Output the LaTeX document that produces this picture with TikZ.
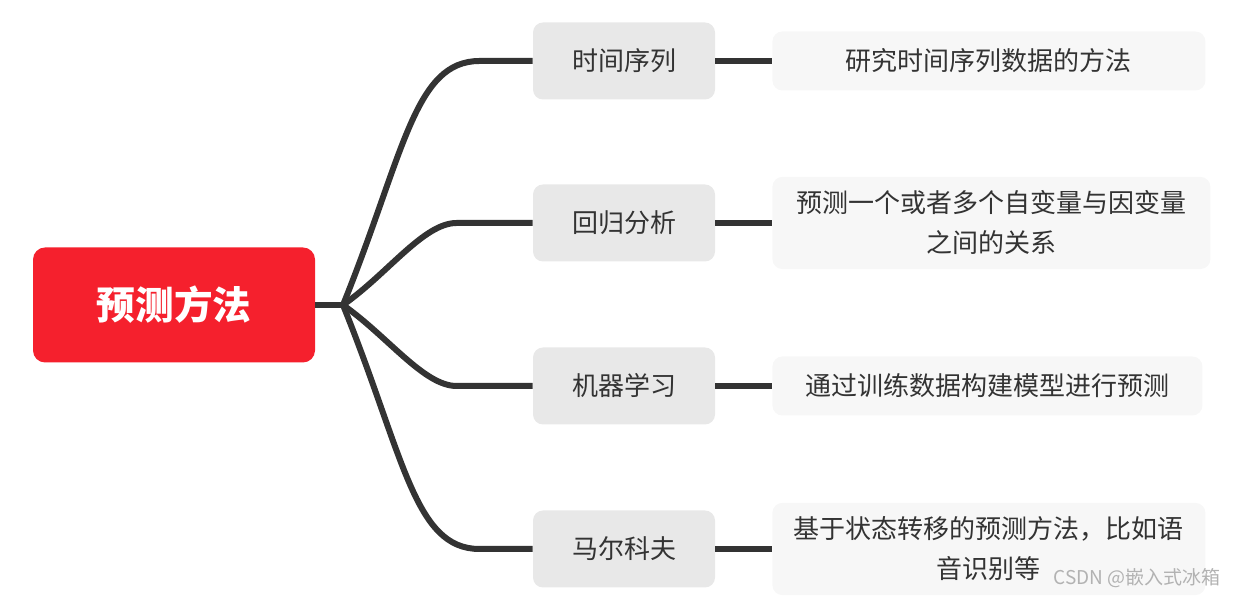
\documentclass[tikz,border=0pt]{standalone}
\usepackage{fontspec}
\newfontfamily\cjk{Noto Sans CJK SC}
\definecolor{rootred}{HTML}{F5202D}
\definecolor{topicgray}{HTML}{E8E8E8}
\definecolor{leafgray}{HTML}{F7F7F7}
\definecolor{inkgray}{HTML}{333333}

\tikzstyle{rootbox} = [rectangle,rounded corners=6pt,fill=rootred,text=white,minimum width=141pt,minimum height=57.5pt,font=\cjk\fontsize{19.3}{22}\selectfont\bfseries]
\tikzstyle{topicbox} = [rectangle,rounded corners=5pt,fill=topicgray,text=inkgray,minimum width=91pt,minimum height=38.5pt,font=\cjk\fontsize{13}{20}\selectfont]
\tikzstyle{leafbox} = [rectangle,rounded corners=5pt,fill=leafgray,text=inkgray,minimum height=29.5pt,inner ysep=7pt,align=center,anchor=west,font=\cjk\fontsize{13}{20}\selectfont]
\tikzstyle{link} = [draw,line width=3pt,inkgray,-]
\tikzstyle{signtext} = [font=\cjk\fontsize{9.5}{11}\selectfont,text=gray!60]

\begin{document}
\begin{tikzpicture}[x=0.5pt,y=0.5pt]
    \useasboundingbox (0,0) rectangle (1240,603);
    %% root and hub
    \node[rootbox] (root) at (174,298) {预测方法};
    \coordinate (hub) at (343,298);
    \draw[link] (root.east) -- (hub);
    %% topics, leaves and links
    \foreach \topicname/\topic/\leafname/\leaf/\leafw/\y/\angle/\loose/\shift in {
      ts/时间序列/tsd/研究时间序列数据的方法/216.5/542/68/1.5/26.5,
      reg/回归分析/regd/{预测一个或者多个自变量与因变量\\之间的关系}/219/380/35/1/38,
      ml/机器学习/mld/通过训练数据构建模型进行预测/215/217/-35/1/38,
      mk/马尔科夫/mkd/{基于状态转移的预测方法，比如语\\音识别等}/216.5/54/-68/1.5/26.5}
    {
      \node[topicbox] (\topicname) at (624,\y) {\topic};
      \node[leafbox,minimum width=\leafw pt] (\leafname) at (772,\y) {\leaf};
      \draw[link] (hub) to[out=\angle,in=180,out looseness=\loose,in looseness=0.6]
        ([xshift=-\shift pt]\topicname.west) -- (\topicname.west);
      \draw[link] (\topicname.east) -- (\leafname.west);
    }
    %% watermark
    \node[signtext] (sign) at (1137,25) {CSDN @嵌入式冰箱};
\end{tikzpicture}
\end{document}
